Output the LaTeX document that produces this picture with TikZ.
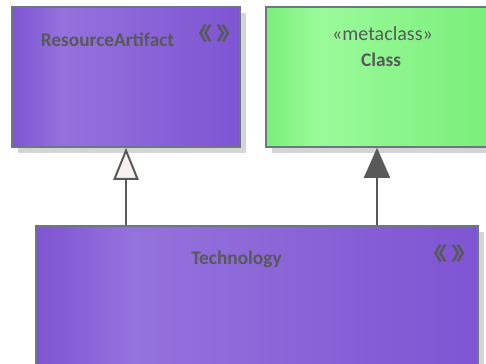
\documentclass[tikz,border=0pt]{standalone}
\usepackage{fontspec}
\usepackage{graphicx}
\setmainfont{Carlito}
\newfontfamily\cjkfont{Noto Sans CJK SC}
\usetikzlibrary{arrows.meta,shadows}

\definecolor{purpdark}{RGB}{126,85,211}
\definecolor{purplight}{RGB}{148,114,220}
\definecolor{greendark}{RGB}{122,238,122}
\definecolor{greenlight}{RGB}{154,250,154}
\definecolor{edgegray}{RGB}{108,118,132}
\definecolor{textgray}{RGB}{89,89,89}
\definecolor{tipfill}{RGB}{248,240,236}

\pgfdeclarehorizontalshading{purpshade}{100bp}{color(0bp)=(purpdark); color(25bp)=(purpdark); color(36bp)=(purplight); color(75bp)=(purpdark); color(100bp)=(purpdark)}
\pgfdeclarehorizontalshading{greenshade}{100bp}{color(0bp)=(greendark); color(25bp)=(greendark); color(37bp)=(greenlight); color(75bp)=(greendark); color(100bp)=(greendark)}

\newcommand{\stereomark}{\scalebox{1.7}[1.15]{《}\hspace{3pt}\scalebox{1.7}[1.15]{》}}

\tikzset{every picture/.style={line width=0.75pt}}
\tikzset{
  umlbox/.style={draw=edgegray, line width=1.2pt, rectangle, inner sep=0pt,
    general shadow={fill=black!17, shadow xshift=4.5pt, shadow yshift=-4.5pt}},
  nametext/.style={inner sep=0.75pt, text=textgray, font=\fontsize{14.5}{16}\selectfont\bfseries},
  stereotext/.style={inner sep=0.75pt, text=textgray, font=\fontsize{15}{17}\selectfont},
  marktext/.style={inner sep=0.75pt, text=textgray, font=\cjkfont\fontsize{12}{14}\selectfont\bfseries},
  generalize/.style={draw=textgray, line width=1.5pt, -{Triangle[length=24pt, width=19pt, fill=tipfill]}},
  extension/.style={draw=textgray, line width=1.5pt, -{Triangle[length=22.5pt, width=19.5pt, fill=textgray]}}
}

\begin{document}
\begin{tikzpicture}[x=0.75pt,y=0.75pt,yscale=-1,xscale=1]
\useasboundingbox (0,0) rectangle (486,364);

%Shape: Rectangle [id:artifact]
\node [umlbox, shading=purpshade, minimum width=171pt, minimum height=105pt] (artifact) at (126,77) {};
%Shape: Rectangle [id:class]
\node [umlbox, shading=greenshade, minimum width=166.5pt, minimum height=105pt] (class) at (377,77) {};
%Shape: Rectangle [id:tech]
\node [umlbox, shading=purpshade, minimum width=331.5pt, minimum height=106.5pt] (tech) at (257,297) {};

% Text Node
\node [nametext] (artifactname) at (107.5,40) {ResourceArtifact};
% Text Node
\node [marktext] (artifactmark) at (214.5,34) {\stereomark};
% Text Node
\node [stereotext] (classstereo) at (382.5,34) {«metaclass»};
% Text Node
\node [nametext] (classname) at (381,60) {Class};
% Text Node
\node [nametext] (techname) at (236.5,259) {Technology};
% Text Node
\node [marktext] (techmark) at (449.5,254) {\stereomark};

%Straight Lines [id:generalization]
\draw [generalize] (tech.north -| artifact.south) -- (artifact.south);
%Straight Lines [id:extension]
\draw [extension] (tech.north -| class.south) -- (class.south);

\end{tikzpicture}
\end{document}
